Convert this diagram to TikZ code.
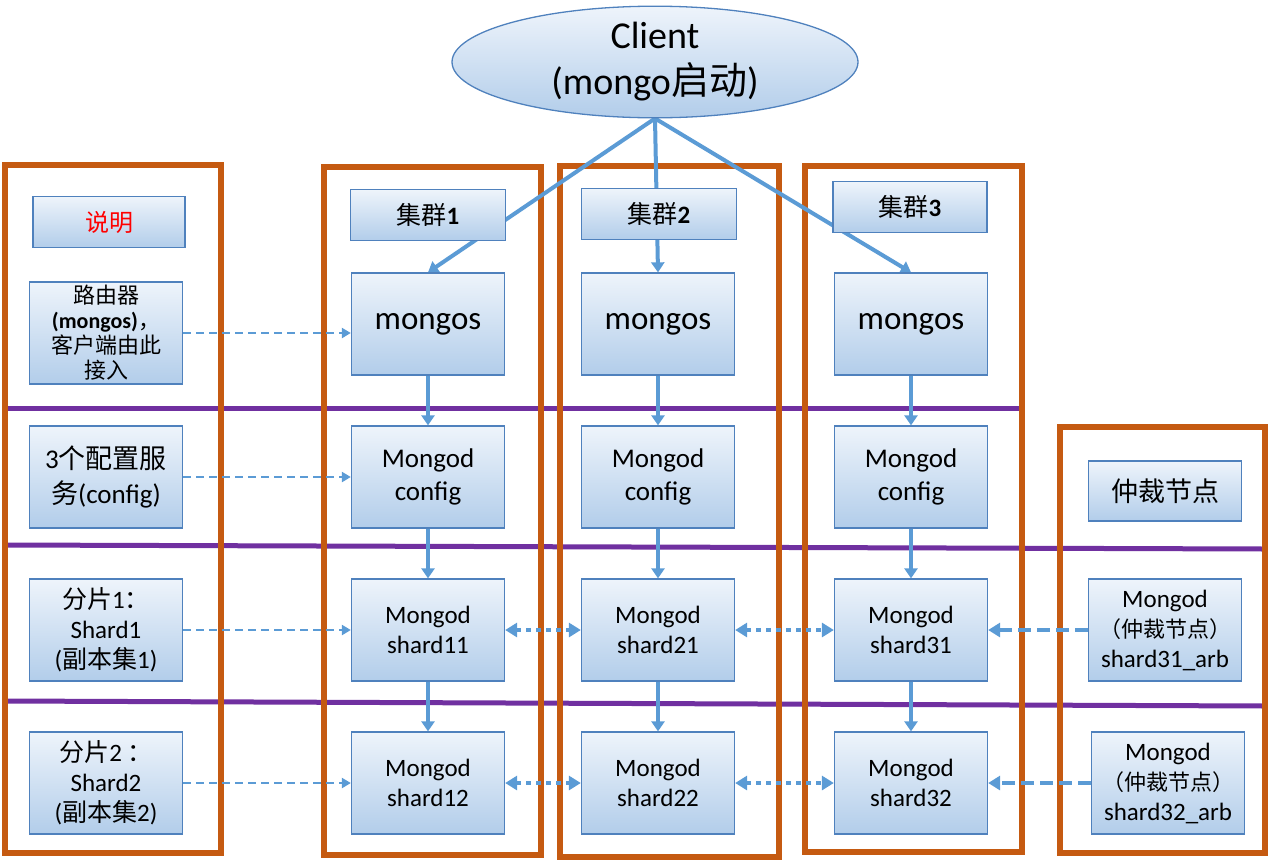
\documentclass[tikz,border=0pt]{standalone}
\usepackage{fontspec}
\setmainfont{Carlito}
\newfontfamily\cjk{Noto Sans CJK SC}
\usetikzlibrary{positioning,shapes.geometric,arrows.meta}

\definecolor{boxtop}{HTML}{EEF4FB}
\definecolor{boxbot}{HTML}{B2CDEA}
\definecolor{boxline}{HTML}{4F81BD}
\definecolor{linkblue}{HTML}{5B9BD5}
\definecolor{frameorange}{HTML}{C55A11}
\definecolor{rowpurple}{HTML}{7030A0}

\pgfdeclarelayer{back}
\pgfsetlayers{back,main}

\tikzset{%
  % Specifications for style of nodes:
         base/.style =      { rectangle, draw=boxline, line width=1.3pt, top color=boxtop, bottom color=boxbot, minimum width=153pt, minimum height=102pt, inner sep=0pt, align=center },
         titlebox/.style =  { base, minimum width=155pt, minimum height=51pt, font=\fontsize{25}{30}\selectfont },
         legendbox/.style = { base, font=\fontsize{25}{30}\selectfont },
         mongosbox/.style = { base, font=\fontsize{33}{40}\selectfont },
         configbox/.style = { base, font=\fontsize{27}{33}\selectfont },
         shardbox/.style =  { base, font=\fontsize{25}{30}\selectfont },
         clientbox/.style = { ellipse, draw=boxline, line width=1.3pt, top color=boxtop, bottom color=boxbot, minimum width=406pt, minimum height=106pt, inner sep=0pt, align=center, font=\fontsize{38}{46}\selectfont },
  % Specifications for style of lines:
         link/.style =  { draw=linkblue, line width=4pt, -{Triangle[width=13pt,length=10pt]} },
         entry/.style = { draw=linkblue, line width=2.2pt, dash pattern=on 8pt off 5pt, -{Triangle[width=10pt,length=9pt]} },
         sync/.style =  { draw=linkblue, line width=4pt, dash pattern=on 5pt off 5pt, {Triangle[width=14pt,length=12pt]}-{Triangle[width=14pt,length=12pt]} },
         vote/.style =  { draw=linkblue, line width=4pt, dash pattern=on 13pt off 6pt, -{Triangle[width=14pt,length=12pt]} },
         frame/.style = { draw=frameorange, line width=6pt },
         row/.style =   { draw=rowpurple, line width=5pt },
}

\begin{document}
\begin{tikzpicture}[x=1pt, y=-1pt, node distance=153pt]
    \useasboundingbox (0,0) rectangle (1268,860);

    % Draw nodes
    \node (client)   [clientbox]                   at (655,62)   {Client\\(mongo{\cjk 启动})};

    \node (note)     [titlebox, minimum width=152pt, text=red, font=\fontsize{24}{30}\selectfont] at (109,222) {{\cjk 说明}};
    \node (router)   [legendbox, font=\fontsize{22}{25}\selectfont] at (106,333) {{\cjk 路由器}\\\textbf{(mongos)}{\cjk ，}\\{\cjk 客户端由此}\\{\cjk 接入}};
    \node (cfgnote)  [legendbox, font=\fontsize{27}{35}\selectfont] at (106,477) {3{\cjk 个配置服}\\{\cjk 务}(config)};
    \node (shnote1)  [legendbox, below of = cfgnote]  {{\cjk 分片}1{\cjk ：}\\Shard1\\({\cjk 副本集}1)};
    \node (shnote2)  [legendbox, below of = shnote1]  {{\cjk 分片}2 {\cjk ：}\\Shard2\\({\cjk 副本集}2)};

    \node (label1)   [titlebox]                    at (428,215)  {{\cjk 集群}\textbf{1}};
    \node (mongos1)  [mongosbox]                   at (428,324)  {mongos};
    \node (config1)  [configbox, below of = mongos1] {Mongod\\config};
    \node (shard11)  [shardbox, below of = config1]  {Mongod\\shard11};
    \node (shard12)  [shardbox, below of = shard11]  {Mongod\\shard12};

    \node (label2)   [titlebox]                    at (659,214)  {{\cjk 集群}\textbf{2}};
    \node (mongos2)  [mongosbox]                   at (658,324)  {mongos};
    \node (config2)  [configbox, below of = mongos2] {Mongod\\config};
    \node (shard21)  [shardbox, below of = config2]  {Mongod\\shard21};
    \node (shard22)  [shardbox, below of = shard21]  {Mongod\\shard22};

    \node (label3)   [titlebox, minimum width=154pt] at (910,207) {{\cjk 集群}\textbf{3}};
    \node (mongos3)  [mongosbox]                   at (911,324)  {mongos};
    \node (config3)  [configbox, below of = mongos3] {Mongod\\config};
    \node (shard31)  [shardbox, below of = config3]  {Mongod\\shard31};
    \node (shard32)  [shardbox, below of = shard31]  {Mongod\\shard32};

    \node (arbtitle) [base, minimum height=60pt, font=\fontsize{27}{33}\selectfont] at (1165,491) {{\cjk 仲裁节点}};
    \node (arb31)    [shardbox]                    at (1165,630) {Mongod\\{\cjk\fontsize{22}{30}\selectfont （仲裁节点）}\\shard31\_arb};
    \node (arb32)    [shardbox]                    at (1168,783) {Mongod\\{\cjk\fontsize{22}{30}\selectfont （仲裁节点）}\\shard32\_arb};

    % Draw frames, rows and client links behind the boxes
    \begin{pgfonlayer}{back}
    \draw[row]     (5,408) -- (1020,408);
    \draw[row]     (5,545) -- (1265,549);
    \draw[row]     (5,701) -- (1265,706);
    \draw[frame]   (5,165) rectangle (221,853);
    \draw[frame]   (324,167) rectangle (541,855);
    \draw[frame]   (560,166) rectangle (779,857);
    \draw[frame]   (805,166) rectangle (1022,852);
    \draw[frame]   (1060,427) rectangle (1265,853);
    \draw[link]    (client.south) -- (mongos1.north);
    \draw[link]    (client.south) -- (mongos2.north);
    \draw[link]    (client.south) -- (mongos3.north);
    \end{pgfonlayer}

    % Draw arrows
    \draw[link]    (mongos1) -- (config1);
    \draw[link]    (config1) -- (shard11);
    \draw[link]    (shard11) -- (shard12);
    \draw[link]    (mongos2) -- (config2);
    \draw[link]    (config2) -- (shard21);
    \draw[link]    (shard21) -- (shard22);
    \draw[link]    (mongos3) -- (config3);
    \draw[link]    (config3) -- (shard31);
    \draw[link]    (shard31) -- (shard32);

    \draw[entry]   (router.east)  -- (router.east -| mongos1.west);
    \draw[entry]   (cfgnote.east) -- (config1.west);
    \draw[entry]   (shnote1.east) -- (shard11.west);
    \draw[entry]   (shnote2.east) -- (shard12.west);

    \draw[sync]    (shard11.east) -- (shard21.west);
    \draw[sync]    (shard21.east) -- (shard31.west);
    \draw[sync]    (shard12.east) -- (shard22.west);
    \draw[sync]    (shard22.east) -- (shard32.west);

    \draw[vote]    (arb31.west) -- (shard31.east);
    \draw[vote]    (arb32.west) -- (shard32.east);
\end{tikzpicture}
\end{document}
